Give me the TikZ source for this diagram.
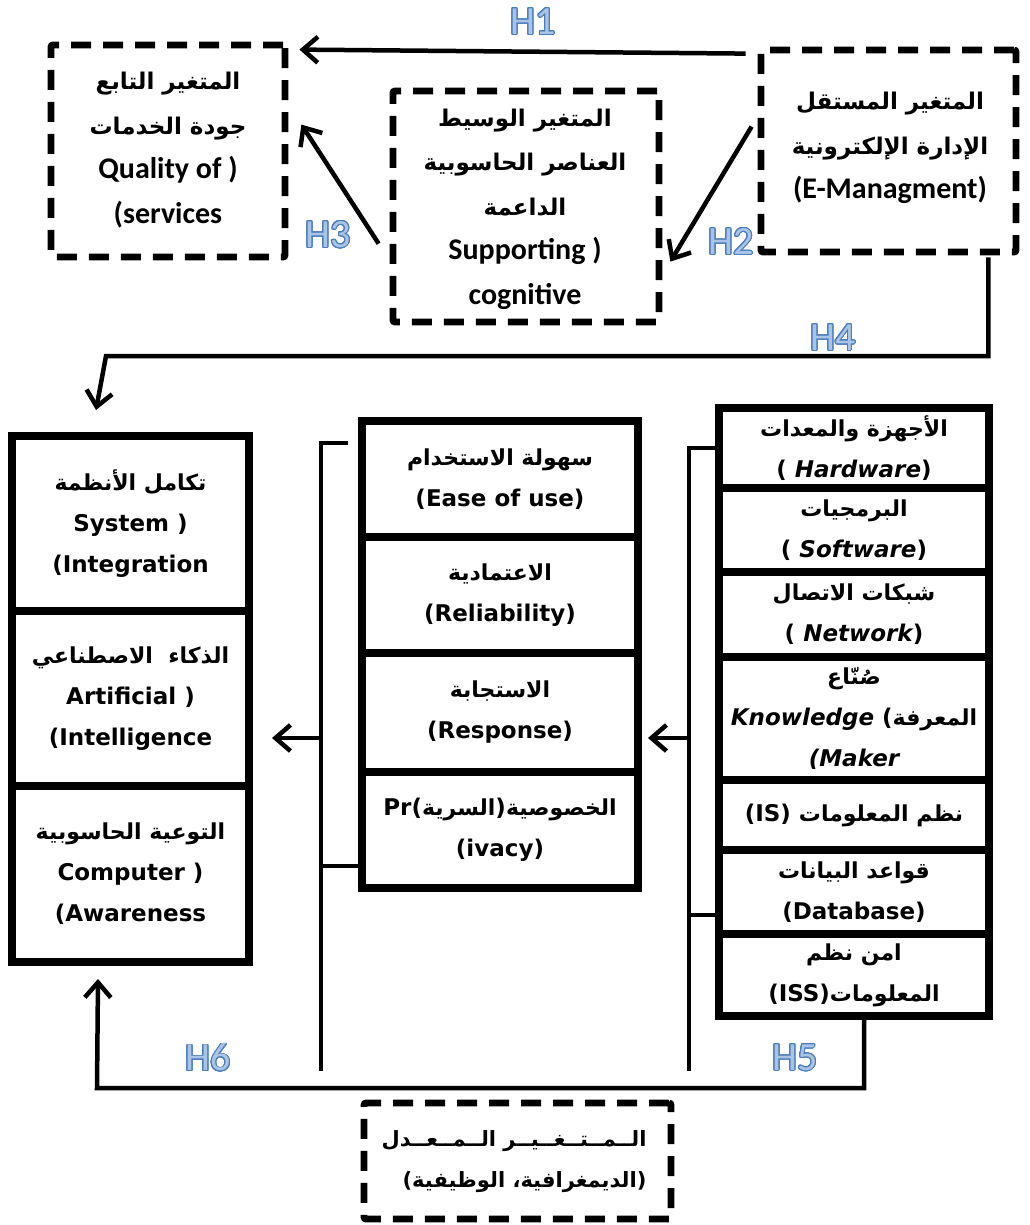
\documentclass[tikz,border=0pt]{standalone}
\usepackage{fontspec}
\usepackage{contour}
\setmainfont{Carlito}
\newfontfamily\arf[Script=Arabic]{DejaVu Sans}
\newfontfamily\vsf{DejaVu Sans}
\TeXXeTstate=1
\usetikzlibrary{arrows.meta,calc}
\definecolor{hblue}{HTML}{4A7EBB}
\definecolor{hfill}{HTML}{A9C4E6}
% Arabic run, bold, right to left; optional size
\newcommand{\AR}[2][22]{{\fontsize{#1}{10}\selectfont\arf\bfseries\beginR #2\endR}}
% outlined hypothesis tag
\newcommand{\hyp}[1]{\contour{hblue}{\color{hfill}#1}}
\contourlength{0.9pt}
\contournumber{24}
\tikzset{
  dbox/.style={draw, line width=6.8pt, dash pattern=on 20pt off 12pt, rounded corners=2pt, inner sep=0pt},
  cell/.style={draw, line width=8pt, inner sep=0pt},
  toptxt/.style={align=center, font=\fontsize{30}{44.5}\selectfont\bfseries},
  coltxt/.style={align=center, font=\fontsize{23}{41}\selectfont\vsf\bfseries},
  conn/.style={line width=4.5pt},
  arr/.style={conn, -{Straight Barb[length=15pt,width=26pt]}},
  hlab/.style={font=\fontsize{40}{40}\selectfont, inner sep=0pt}
}
\begin{document}
\begin{tikzpicture}[x=1pt,y=-1pt]
\useasboundingbox (0,0) rectangle (1029,1225);

% ---- top row: dashed variable boxes ----
\node[dbox, minimum width=234pt, minimum height=212pt] (dep) at (168,151) {};
\node[toptxt] (deptxt) at (168,150) {\AR[23]{المتغير التابع}\\\AR[23]{جودة الخدمات}\\Quality of )\\(services};

\node[dbox, minimum width=266pt, minimum height=231pt] (med) at (526,206.5) {};
\node[toptxt] (medtxt) at (525,209) {\AR[23]{المتغير الوسيط}\\\AR[23]{العناصر الحاسوبية}\\\AR[23]{الداعمة}\\Supporting )\\cognitive};

\node[dbox, minimum width=255pt, minimum height=202pt] (emg) at (888.5,151) {};
\node[toptxt] (emgtxt) at (890,148) {\AR[23]{المتغير المستقل}\\\AR[23]{الإدارة الإلكترونية}\\(E-Managment)};

% ---- right column ----
\node[cell, minimum width=270pt, minimum height=80pt] (rc1) at (854,448) {};
\node[cell, minimum width=270pt, minimum height=84pt] (rc2) at (854,530) {};
\node[cell, minimum width=270pt, minimum height=85pt] (rc3) at (854,614.5) {};
\node[cell, minimum width=270pt, minimum height=123pt] (rc4) at (854,718.5) {};
\node[cell, minimum width=270pt, minimum height=70pt] (rc5) at (854,815) {};
\node[cell, minimum width=270pt, minimum height=84pt] (rc6) at (854,892) {};
\node[cell, minimum width=270pt, minimum height=82pt] (rc7) at (854,975) {};
\node[coltxt] (rt1) at (rc1) {\AR{الأجهزة والمعدات}\\( \itshape Hardware\upshape)};
\node[coltxt] (rt2) at (rc2) {\AR{البرمجيات}\\( \itshape Software\upshape)};
\node[coltxt] (rt3) at (rc3) {\AR{شبكات الاتصال}\\( \itshape Network\upshape)};
\node[coltxt] (rt4) at (rc4) {\AR{صُنّاع}\\{\itshape Knowledge }(\AR{المعرفة}\\{\itshape (Maker}};
\node[coltxt] (rt5) at (rc5) {(IS) \AR{نظم المعلومات}};
\node[coltxt] (rt6) at (rc6) {\AR{قواعد البيانات}\\(Database)};
\node[coltxt] (rt7) at (rc7) {\AR{امن نظم}\\(ISS)\AR{المعلومات}};

% ---- middle column ----
\node[cell, minimum width=276pt, minimum height=116pt] (mc1) at (500,479) {};
\node[cell, minimum width=276pt, minimum height=116pt] (mc2) at (500,595) {};
\node[cell, minimum width=276pt, minimum height=119pt] (mc3) at (500,712.5) {};
\node[cell, minimum width=276pt, minimum height=116pt] (mc4) at (500,830) {};
\node[coltxt] (mt1) at (mc1) {\AR{سهولة الاستخدام}\\(Ease of use)};
\node[coltxt] (mt2) at (mc2) {\AR{الاعتمادية}\\(Reliability)};
\node[coltxt] (mt3) at (mc3) {\AR{الاستجابة}\\(Response)};
\node[coltxt] (mt4) at (mc4) {Pr(\AR{السرية})\AR{الخصوصية}\\(ivacy)};

% ---- left column ----
\node[cell, minimum width=237pt, minimum height=175pt] (lc1) at (130.5,523.5) {};
\node[cell, minimum width=237pt, minimum height=175pt] (lc2) at (130.5,698.5) {};
\node[cell, minimum width=237pt, minimum height=176pt] (lc3) at (130.5,874) {};
\node[coltxt] (lt1) at (lc1) {\AR{تكامل الأنظمة}\\System )\\(Integration};
\node[coltxt] (lt2) at (lc2) {\AR{الذكاء~~الاصطناعي}\\Artificial )\\(Intelligence};
\node[coltxt] (lt3) at (lc3) {\AR{التوعية الحاسوبية}\\Computer )\\(Awareness};

% ---- moderator ----
\node[dbox, minimum width=307pt, minimum height=116pt] (mod) at (517.5,1161) {};
\node[align=right, anchor=east, font=\fontsize{23}{41}\selectfont] (modtxt) at (650,1162) {\AR[21]{الــمــتــغــيــر الــمــعــدل}\\\AR[21]{(الديمغرافية، الوظيفية)}};

% ---- hypothesis arrows ----
\draw[arr] ($(emg.north west)+(-12,7)$) coordinate (h1s) -- ($(dep.north east)+(11,8)$) coordinate (h1e);
\draw[arr] ($(emg.north west)+(-6,80)$) coordinate (h2s) -- ($(med.north east)+(8,174)$) coordinate (h2e);
\draw[arr] ($(med.north west)+(-11,156)$) coordinate (h3s) -- ($(dep.north east)+(13,83)$) coordinate (h3e);

% H4: independent variable to the left column
\coordinate (h4s) at ($(emg.south east)+(-31,2)$);
\coordinate (h4k) at ($(lc1.north west)+(98,-76)$);
\coordinate (h4e) at ($(lc1.north west)+(88,-22)$);
\draw[arr] (h4s) |- (h4k) -- (h4e);

% bus between middle and left columns
\coordinate (lbt) at ($(mc1.north west)+(-10,26)$);
\coordinate (lbb) at ($(mc4.south west)+(0,-26)$);
\coordinate (lbx) at (321,1071);
\draw[conn] (lbt) -- (lbt -| lbx) -- (lbx);
\draw[conn] (lbb) -- (lbb -| lbx);
\coordinate (lba) at (321,738);
\draw[arr] (lba) -- ($(lc2.east)+(19,39.5)$) coordinate (lbtip);

% bus between right and middle columns
\coordinate (rbt) at ($(rc1.north west)+(0,44)$);
\coordinate (rbb) at ($(rc6.north west)+(0,69)$);
\coordinate (rbx) at (689,1071);
\draw[conn] (rbt) -- (rbt -| rbx) -- (rbx);
\draw[conn] (rbb) -- (rbb -| rbx);
\coordinate (rba) at (689,738);
\draw[arr] (rba) -- ($(mc3.east)+(6,25.5)$) coordinate (rbtip);

% H5 / H6: return path to the left column
\coordinate (h5s) at ($(rc7.south west)+(149,0)$);
\coordinate (h5k) at (97,1088);
\draw[arr] (h5s) |- (h5k) -- ($(lc3.south west)+(90,13)$) coordinate (h6e);

% ---- hypothesis tags ----
\node[hlab] (H1) at (533,22) {\hyp{H1}};
\node[hlab] (H2) at (731,242) {\hyp{H2}};
\node[hlab] (H3) at (328,235) {\hyp{H3}};
\node[hlab] (H4) at (833,338) {\hyp{H4}};
\node[hlab] (H5) at (795,1058) {\hyp{H5}};
\node[hlab] (H6) at (208,1058) {\hyp{H6}};
\end{tikzpicture}
\end{document}
